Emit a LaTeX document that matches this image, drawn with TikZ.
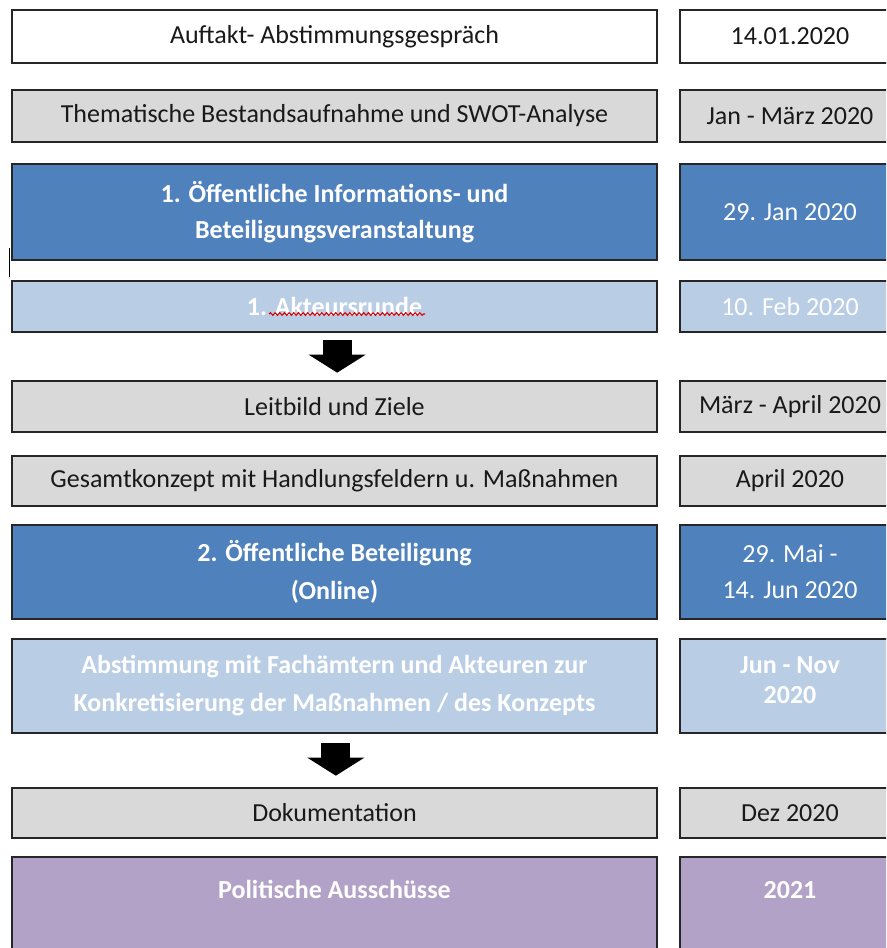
\documentclass[tikz,border=0pt]{standalone}
\usepackage{fontspec}
\setmainfont{Carlito}
\usetikzlibrary{positioning,arrows.meta,decorations.pathmorphing}

\definecolor{boxgrey}{HTML}{D9D9D9}
\definecolor{darkblue}{HTML}{4F81BD}
\definecolor{lightblue}{HTML}{B9CDE5}
\definecolor{lilac}{HTML}{B2A2C7}
\definecolor{frame}{HTML}{262626}

\begin{document}
\begin{tikzpicture}[x=0.75pt,y=-0.75pt,
    phase/.style = {draw=frame, line width=1.5pt, inner sep=0pt, minimum width=483.75pt, align=center, font=\fontsize{19.5}{27}\selectfont, text=black!90},
    datebox/.style = {phase, minimum width=165pt},
    grey/.style = {fill=boxgrey},
    dark/.style = {fill=darkblue, text=white},
    light/.style = {fill=lightblue, text=white},
    lila/.style = {fill=lilac, text=white},
    blockarrow/.style = {line width=21.75pt, -{Triangle[width=42.75pt, length=13.5pt, line width=0pt]}, shorten <=5.5pt, shorten >=5.5pt}]
        \useasboundingbox (0,0) rectangle (886,948);
        \clip (0,0) rectangle (886,948);
        % phases on the left
        \node[phase, minimum height=39.75pt] (1) at (334.5,36.5) {Auftakt- Abstimmungsgespräch};
        \node[phase, grey, minimum height=39pt] (2) [below=18.75pt of 1] {Thematische Bestandsaufnahme und SWOT-Analyse};
        \node[phase, dark, minimum height=72pt, font=\fontsize{19.5}{27}\selectfont\bfseries] (3) [below=15pt of 2] {1. Öffentliche Informations- und\\Beteiligungsveranstaltung};
        \node[phase, light, minimum height=38.25pt, font=\fontsize{19.5}{27}\selectfont\bfseries] (4) [below=14.25pt of 3] {1. Akteursrunde};
        \node[phase, grey, minimum height=38.25pt] (5) [below=35.25pt of 4] {Leitbild und Ziele};
        \node[phase, grey, minimum height=37.5pt] (6) [below=16.5pt of 5] {Gesamtkonzept mit Handlungsfeldern u. Maßnahmen};
        \node[phase, dark, minimum height=70.5pt, font=\fontsize{19.5}{28}\selectfont\bfseries] (7) [below=12.75pt of 6] {2. Öffentliche Beteiligung\\(Online)};
        \node[phase, light, minimum height=70.5pt, font=\fontsize{19.5}{28.5}\selectfont\bfseries] (8) [below=13.5pt of 7] {Abstimmung mit Fachämtern und Akteuren zur\\Konkretisierung der Maßnahmen / des Konzepts};
        \node[phase, grey, minimum height=37.5pt] (9) [below=39.75pt of 8] {Dokumentation};
        \node[phase, lila, text height=30.75pt, text depth=60pt, font=\fontsize{19.5}{27}\selectfont\bfseries] (10) [below=12.75pt of 9] {Politische Ausschüsse};
        % dates on the right
        \node[datebox, minimum height=39.75pt] (d1) [right=15.75pt of 1] {14.01.2020};
        \node[datebox, grey, minimum height=39pt] (d2) [right=15.75pt of 2] {Jan - März 2020};
        \node[datebox, dark, minimum height=72pt] (d3) [right=15.75pt of 3] {29. Jan 2020};
        \node[datebox, light, minimum height=38.25pt] (d4) [right=15.75pt of 4] {10. Feb 2020};
        \node[datebox, grey, minimum height=38.25pt] (d5) [right=15.75pt of 5] {März - April 2020};
        \node[datebox, grey, minimum height=37.5pt] (d6) [right=15.75pt of 6] {April 2020};
        \node[datebox, dark, minimum height=70.5pt] (d7) [right=15.75pt of 7] {29. Mai -\\14. Jun 2020};
        \node[datebox, light, minimum height=70.5pt, text depth=9pt, font=\fontsize{19.5}{22.5}\selectfont\bfseries] (d8) [right=15.75pt of 8] {Jun - Nov\\2020};
        \node[datebox, grey, minimum height=37.5pt] (d9) [right=15.75pt of 9] {Dez 2020};
        \node[datebox, lila, text height=30.75pt, text depth=60pt, font=\fontsize{19.5}{27}\selectfont\bfseries] (d10) [right=15.75pt of 10] {2021};
        % arrows
        \draw[blockarrow] ([xshift=2pt]4.south) -- ([xshift=2pt]5.north);
        \draw[blockarrow, shorten <=7pt, shorten >=8.5pt] ([xshift=1pt]8.south) -- ([xshift=1pt]9.north);
        % spell check mark and stray tick
        \draw[red!85!black, line width=0.8pt, decorate, decoration={snake, amplitude=1pt, segment length=3.5pt}] (269,314) -- (425,314);
        \draw[black, line width=1.2pt] (9.5,248) -- (9.5,277);
\end{tikzpicture}
\end{document}
